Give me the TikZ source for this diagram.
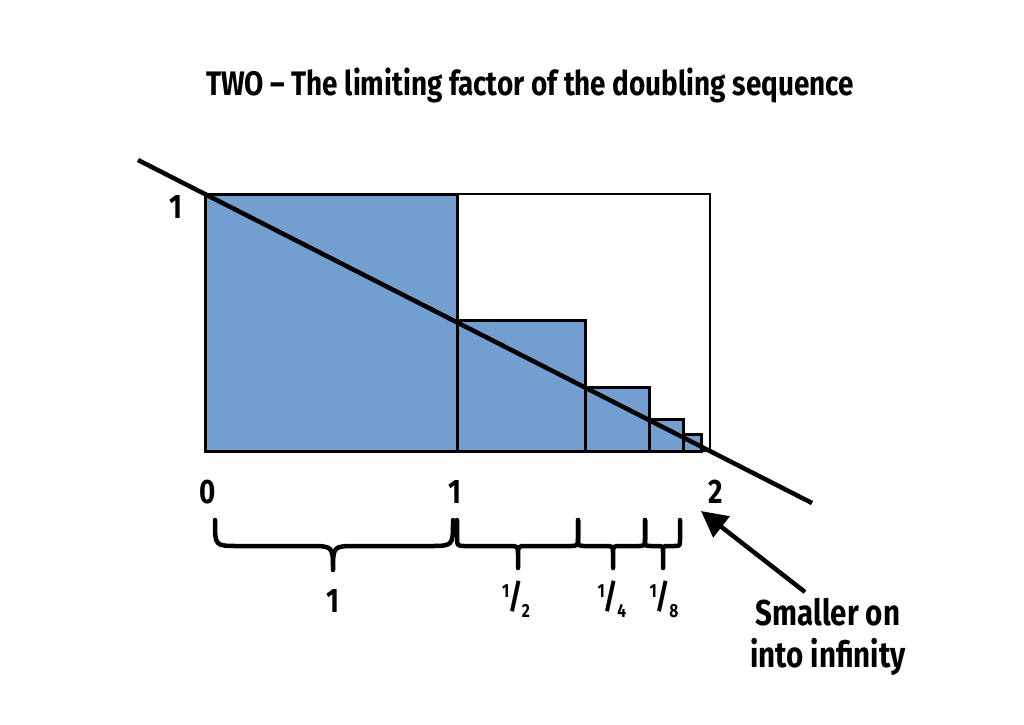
\documentclass[tikz,border=0pt]{standalone}
\usepackage{fontspec}
\setmainfont{Fira Sans}[FakeStretch=0.82]
\usetikzlibrary{arrows.meta}
\definecolor{fillblue}{HTML}{729FCF}
\newcommand\myfrac[1]{\raisebox{11pt}{\fontsize{19}{19}\selectfont 1}\kern-1pt{\fontsize{34}{34}\selectfont /}\kern-1pt\raisebox{-9pt}{\fontsize{19}{19}\selectfont #1}}
\newcommand\mybrace[4]{\draw[brc] (#1,520) -- (#1,546-#4) .. controls (#1,546) .. (#1+#4,546) -- (#3-#4,546) .. controls (#3,546) .. (#3,546+#4) -- (#3,568) -- (#3,546+#4) .. controls (#3,546) .. (#3+#4,546) -- (#2-#4,546) .. controls (#2,546) .. (#2,546-#4) -- (#2,520);}
\begin{document}
\begin{tikzpicture}[x=1pt,y=-1pt,
  lbl/.style={font=\fontsize{34}{40}\selectfont\bfseries, inner sep=0pt},
  bar/.style={fill=fillblue, draw=black, line width=3pt},
  brc/.style={line width=4.5pt, line join=round, line cap=round},
  thickline/.style={line width=4.5pt}]
\useasboundingbox (0,0) rectangle (1024,724);
\fill[white] (0,0) rectangle (1024,724);
% title
\node[lbl] (title) at (530,85) {TWO – The limiting factor of the doubling sequence};
% outer box
\draw[line width=2pt] (205,194) rectangle (710,451);
% bars
\draw[bar] (205,194) rectangle (457,451);
\draw[bar] (457,320) rectangle (585,451);
\draw[bar] (585,387) rectangle (649,451);
\draw[bar] (649,419) rectangle (683,451);
\draw[bar] (683,434) rectangle (701,451);
% diagonal line
\coordinate (ls) at (138,160);
\coordinate (le) at (812,503);
\draw[thickline] (ls) -- (le);
% axis labels
\node[lbl] (y1) at (176,207) {1};
\node[lbl] (x0) at (208,492) {0};
\node[lbl] (x1) at (455,492) {1};
\node[lbl] (x2) at (716,492) {2};
% braces
\mybrace{215}{453}{333}{24}
\mybrace{457}{578}{518}{9}
\mybrace{578}{645}{613}{8}
\mybrace{645}{680}{663}{6}
% brace labels
\node[lbl] (b1) at (333,601) {1};
\node[lbl] (b2) at (516,599) {\myfrac{2}};
\node[lbl] (b3) at (612,599) {\myfrac{4}};
\node[lbl] (b4) at (664,599) {\myfrac{8}};
% note and arrow
\node[lbl, align=center, font=\fontsize{36}{42}\selectfont\bfseries] (note) at (828,637) {Smaller on\\into infinity};
\coordinate (tail) at (805,592);
\coordinate (tip) at (701,511);
\draw[line width=4.5pt, -{Triangle[length=26pt,width=26pt]}] (tail) -- (tip);
\end{tikzpicture}
\end{document}
